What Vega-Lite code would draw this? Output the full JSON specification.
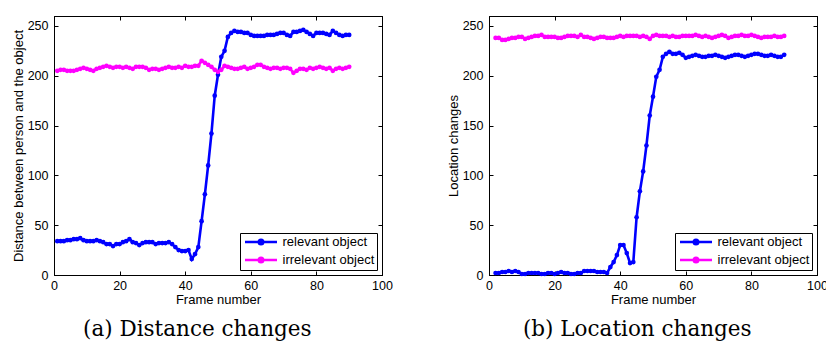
{
  "$schema": "https://vega.github.io/schema/vega-lite/v6.json",
  "padding": {"left": 11, "top": 15, "right": 0, "bottom": 0},
  "background": "white",
  "spacing": 53,
  "config": {
    "font": "Liberation Sans",
    "view": {"stroke": "black", "strokeWidth": 1},
    "axis": {
      "grid": false, "domainColor": "black", "tickColor": "black", "tickSize": -4, "labelFlush": false,
      "labelColor": "black", "labelFontSize": 12.5, "labelFont": "Liberation Sans",
      "titleColor": "black", "titleFontSize": 13, "titleFontWeight": "normal", "titleFont": "Liberation Sans"
    },
    "axisX": {"labelPadding": 8.5, "titlePadding": 1},
    "axisY": {"labelPadding": 10, "titlePadding": 2},
    "legend": {
      "orient": "bottom-right", "offset": 5, "strokeColor": "black", "fillColor": "white",
      "padding": 2.5, "rowPadding": 3, "labelFontSize": 13, "labelFont": "Liberation Sans", "labelColor": "black",
      "symbolSize": 64, "labelOffset": 27, "title": null
    },
    "title": {"orient": "bottom", "frame": "bounds", "anchor": "middle", "font": "DejaVu Serif", "fontSize": 21.5, "fontWeight": "normal", "color": "black", "offset": 13}
  },
  "resolve": {"scale": {"color": "independent", "y": "independent", "x": "independent"}, "legend": {"color": "independent"}},
  "datasets": {
    "a": [
      {"s":"relevant object","f":1,"v":34},{"s":"relevant object","f":2,"v":34},{"s":"relevant object","f":3,"v":34},{"s":"relevant object","f":4,"v":35},{"s":"relevant object","f":5,"v":35},{"s":"relevant object","f":6,"v":36},{"s":"relevant object","f":7,"v":36},{"s":"relevant object","f":8,"v":37},{"s":"relevant object","f":9,"v":35},{"s":"relevant object","f":10,"v":34},
      {"s":"relevant object","f":11,"v":34},{"s":"relevant object","f":12,"v":34},{"s":"relevant object","f":13,"v":35},{"s":"relevant object","f":14,"v":34},{"s":"relevant object","f":15,"v":33},{"s":"relevant object","f":16,"v":31},{"s":"relevant object","f":17,"v":31},{"s":"relevant object","f":18,"v":29},{"s":"relevant object","f":19,"v":31},{"s":"relevant object","f":20,"v":31},
      {"s":"relevant object","f":21,"v":33},{"s":"relevant object","f":22,"v":34},{"s":"relevant object","f":23,"v":36},{"s":"relevant object","f":24,"v":33},{"s":"relevant object","f":25,"v":32},{"s":"relevant object","f":26,"v":30},{"s":"relevant object","f":27,"v":32},{"s":"relevant object","f":28,"v":33},{"s":"relevant object","f":29,"v":33},{"s":"relevant object","f":30,"v":33},
      {"s":"relevant object","f":31,"v":31},{"s":"relevant object","f":32,"v":32},{"s":"relevant object","f":33,"v":32},{"s":"relevant object","f":34,"v":32},{"s":"relevant object","f":35,"v":33},{"s":"relevant object","f":36,"v":31},{"s":"relevant object","f":37,"v":28},{"s":"relevant object","f":38,"v":25},{"s":"relevant object","f":39,"v":24},{"s":"relevant object","f":40,"v":24},
      {"s":"relevant object","f":41,"v":25},{"s":"relevant object","f":42,"v":16},{"s":"relevant object","f":43,"v":21},{"s":"relevant object","f":44,"v":28},{"s":"relevant object","f":45,"v":54},{"s":"relevant object","f":46,"v":81},{"s":"relevant object","f":47,"v":110},{"s":"relevant object","f":48,"v":142},{"s":"relevant object","f":49,"v":180},{"s":"relevant object","f":50,"v":201},
      {"s":"relevant object","f":51,"v":219},{"s":"relevant object","f":52,"v":225},{"s":"relevant object","f":53,"v":239},{"s":"relevant object","f":54,"v":243},{"s":"relevant object","f":55,"v":245},{"s":"relevant object","f":56,"v":244},{"s":"relevant object","f":57,"v":244},{"s":"relevant object","f":58,"v":243},{"s":"relevant object","f":59,"v":243},{"s":"relevant object","f":60,"v":241},
      {"s":"relevant object","f":61,"v":240},{"s":"relevant object","f":62,"v":240},{"s":"relevant object","f":63,"v":240},{"s":"relevant object","f":64,"v":240},{"s":"relevant object","f":65,"v":241},{"s":"relevant object","f":66,"v":241},{"s":"relevant object","f":67,"v":241},{"s":"relevant object","f":68,"v":242},{"s":"relevant object","f":69,"v":243},{"s":"relevant object","f":70,"v":243},
      {"s":"relevant object","f":71,"v":241},{"s":"relevant object","f":72,"v":240},{"s":"relevant object","f":73,"v":244},{"s":"relevant object","f":74,"v":244},{"s":"relevant object","f":75,"v":245},{"s":"relevant object","f":76,"v":246},{"s":"relevant object","f":77,"v":244},{"s":"relevant object","f":78,"v":242},{"s":"relevant object","f":79,"v":240},{"s":"relevant object","f":80,"v":243},
      {"s":"relevant object","f":81,"v":243},{"s":"relevant object","f":82,"v":243},{"s":"relevant object","f":83,"v":242},{"s":"relevant object","f":84,"v":241},{"s":"relevant object","f":85,"v":245},{"s":"relevant object","f":86,"v":243},{"s":"relevant object","f":87,"v":241},{"s":"relevant object","f":88,"v":240},{"s":"relevant object","f":89,"v":241},{"s":"relevant object","f":90,"v":241},
      {"s":"irrelevant object","f":1,"v":205},{"s":"irrelevant object","f":2,"v":206},{"s":"irrelevant object","f":3,"v":206},{"s":"irrelevant object","f":4,"v":205},{"s":"irrelevant object","f":5,"v":205},{"s":"irrelevant object","f":6,"v":205},{"s":"irrelevant object","f":7,"v":206},{"s":"irrelevant object","f":8,"v":207},{"s":"irrelevant object","f":9,"v":208},{"s":"irrelevant object","f":10,"v":207},
      {"s":"irrelevant object","f":11,"v":206},{"s":"irrelevant object","f":12,"v":205},{"s":"irrelevant object","f":13,"v":207},{"s":"irrelevant object","f":14,"v":208},{"s":"irrelevant object","f":15,"v":209},{"s":"irrelevant object","f":16,"v":210},{"s":"irrelevant object","f":17,"v":209},{"s":"irrelevant object","f":18,"v":208},{"s":"irrelevant object","f":19,"v":209},{"s":"irrelevant object","f":20,"v":209},
      {"s":"irrelevant object","f":21,"v":208},{"s":"irrelevant object","f":22,"v":209},{"s":"irrelevant object","f":23,"v":208},{"s":"irrelevant object","f":24,"v":207},{"s":"irrelevant object","f":25,"v":209},{"s":"irrelevant object","f":26,"v":209},{"s":"irrelevant object","f":27,"v":209},{"s":"irrelevant object","f":28,"v":208},{"s":"irrelevant object","f":29,"v":206},{"s":"irrelevant object","f":30,"v":207},
      {"s":"irrelevant object","f":31,"v":207},{"s":"irrelevant object","f":32,"v":206},{"s":"irrelevant object","f":33,"v":207},{"s":"irrelevant object","f":34,"v":208},{"s":"irrelevant object","f":35,"v":209},{"s":"irrelevant object","f":36,"v":208},{"s":"irrelevant object","f":37,"v":208},{"s":"irrelevant object","f":38,"v":209},{"s":"irrelevant object","f":39,"v":208},{"s":"irrelevant object","f":40,"v":210},
      {"s":"irrelevant object","f":41,"v":209},{"s":"irrelevant object","f":42,"v":209},{"s":"irrelevant object","f":43,"v":210},{"s":"irrelevant object","f":44,"v":210},{"s":"irrelevant object","f":45,"v":215},{"s":"irrelevant object","f":46,"v":213},{"s":"irrelevant object","f":47,"v":211},{"s":"irrelevant object","f":48,"v":209},{"s":"irrelevant object","f":49,"v":206},{"s":"irrelevant object","f":50,"v":204},
      {"s":"irrelevant object","f":51,"v":206},{"s":"irrelevant object","f":52,"v":210},{"s":"irrelevant object","f":53,"v":209},{"s":"irrelevant object","f":54,"v":208},{"s":"irrelevant object","f":55,"v":207},{"s":"irrelevant object","f":56,"v":207},{"s":"irrelevant object","f":57,"v":208},{"s":"irrelevant object","f":58,"v":209},{"s":"irrelevant object","f":59,"v":207},{"s":"irrelevant object","f":60,"v":208},
      {"s":"irrelevant object","f":61,"v":209},{"s":"irrelevant object","f":62,"v":211},{"s":"irrelevant object","f":63,"v":211},{"s":"irrelevant object","f":64,"v":209},{"s":"irrelevant object","f":65,"v":208},{"s":"irrelevant object","f":66,"v":207},{"s":"irrelevant object","f":67,"v":208},{"s":"irrelevant object","f":68,"v":208},{"s":"irrelevant object","f":69,"v":207},{"s":"irrelevant object","f":70,"v":208},
      {"s":"irrelevant object","f":71,"v":208},{"s":"irrelevant object","f":72,"v":207},{"s":"irrelevant object","f":73,"v":203},{"s":"irrelevant object","f":74,"v":205},{"s":"irrelevant object","f":75,"v":207},{"s":"irrelevant object","f":76,"v":207},{"s":"irrelevant object","f":77,"v":206},{"s":"irrelevant object","f":78,"v":208},{"s":"irrelevant object","f":79,"v":207},{"s":"irrelevant object","f":80,"v":208},
      {"s":"irrelevant object","f":81,"v":209},{"s":"irrelevant object","f":82,"v":208},{"s":"irrelevant object","f":83,"v":207},{"s":"irrelevant object","f":84,"v":208},{"s":"irrelevant object","f":85,"v":205},{"s":"irrelevant object","f":86,"v":207},{"s":"irrelevant object","f":87,"v":208},{"s":"irrelevant object","f":88,"v":207},{"s":"irrelevant object","f":89,"v":208},{"s":"irrelevant object","f":90,"v":209}
    ],
    "b": [
      {"s":"relevant object","f":2,"v":2},{"s":"relevant object","f":3,"v":2},{"s":"relevant object","f":4,"v":3},{"s":"relevant object","f":5,"v":3},{"s":"relevant object","f":6,"v":4},{"s":"relevant object","f":7,"v":3},{"s":"relevant object","f":8,"v":4},{"s":"relevant object","f":9,"v":3},{"s":"relevant object","f":10,"v":1},
      {"s":"relevant object","f":11,"v":1},{"s":"relevant object","f":12,"v":2},{"s":"relevant object","f":13,"v":2},{"s":"relevant object","f":14,"v":2},{"s":"relevant object","f":15,"v":2},{"s":"relevant object","f":16,"v":1},{"s":"relevant object","f":17,"v":1},{"s":"relevant object","f":18,"v":2},{"s":"relevant object","f":19,"v":2},{"s":"relevant object","f":20,"v":1},
      {"s":"relevant object","f":21,"v":2},{"s":"relevant object","f":22,"v":3},{"s":"relevant object","f":23,"v":2},{"s":"relevant object","f":24,"v":2},{"s":"relevant object","f":25,"v":1},{"s":"relevant object","f":26,"v":1},{"s":"relevant object","f":27,"v":2},{"s":"relevant object","f":28,"v":2},{"s":"relevant object","f":29,"v":4},{"s":"relevant object","f":30,"v":4},
      {"s":"relevant object","f":31,"v":4},{"s":"relevant object","f":32,"v":4},{"s":"relevant object","f":33,"v":3},{"s":"relevant object","f":34,"v":3},{"s":"relevant object","f":35,"v":3},{"s":"relevant object","f":36,"v":2},{"s":"relevant object","f":37,"v":8},{"s":"relevant object","f":38,"v":13},{"s":"relevant object","f":39,"v":20},{"s":"relevant object","f":40,"v":30},
      {"s":"relevant object","f":41,"v":30},{"s":"relevant object","f":42,"v":22},{"s":"relevant object","f":43,"v":12},{"s":"relevant object","f":44,"v":13},{"s":"relevant object","f":45,"v":58},{"s":"relevant object","f":46,"v":84},{"s":"relevant object","f":47,"v":104},{"s":"relevant object","f":48,"v":130},{"s":"relevant object","f":49,"v":160},{"s":"relevant object","f":50,"v":179},
      {"s":"relevant object","f":51,"v":199},{"s":"relevant object","f":52,"v":206},{"s":"relevant object","f":53,"v":219},{"s":"relevant object","f":54,"v":222},{"s":"relevant object","f":55,"v":224},{"s":"relevant object","f":56,"v":222},{"s":"relevant object","f":57,"v":222},{"s":"relevant object","f":58,"v":223},{"s":"relevant object","f":59,"v":221},{"s":"relevant object","f":60,"v":218},
      {"s":"relevant object","f":61,"v":219},{"s":"relevant object","f":62,"v":220},{"s":"relevant object","f":63,"v":221},{"s":"relevant object","f":64,"v":220},{"s":"relevant object","f":65,"v":219},{"s":"relevant object","f":66,"v":219},{"s":"relevant object","f":67,"v":220},{"s":"relevant object","f":68,"v":220},{"s":"relevant object","f":69,"v":221},{"s":"relevant object","f":70,"v":220},
      {"s":"relevant object","f":71,"v":219},{"s":"relevant object","f":72,"v":218},{"s":"relevant object","f":73,"v":219},{"s":"relevant object","f":74,"v":220},{"s":"relevant object","f":75,"v":221},{"s":"relevant object","f":76,"v":221},{"s":"relevant object","f":77,"v":220},{"s":"relevant object","f":78,"v":219},{"s":"relevant object","f":79,"v":220},{"s":"relevant object","f":80,"v":221},
      {"s":"relevant object","f":81,"v":222},{"s":"relevant object","f":82,"v":222},{"s":"relevant object","f":83,"v":221},{"s":"relevant object","f":84,"v":220},{"s":"relevant object","f":85,"v":220},{"s":"relevant object","f":86,"v":221},{"s":"relevant object","f":87,"v":220},{"s":"relevant object","f":88,"v":219},{"s":"relevant object","f":89,"v":219},{"s":"relevant object","f":90,"v":221},
      {"s":"irrelevant object","f":2,"v":238},{"s":"irrelevant object","f":3,"v":238},{"s":"irrelevant object","f":4,"v":236},{"s":"irrelevant object","f":5,"v":236},{"s":"irrelevant object","f":6,"v":237},{"s":"irrelevant object","f":7,"v":238},{"s":"irrelevant object","f":8,"v":238},{"s":"irrelevant object","f":9,"v":239},{"s":"irrelevant object","f":10,"v":239},
      {"s":"irrelevant object","f":11,"v":237},{"s":"irrelevant object","f":12,"v":238},{"s":"irrelevant object","f":13,"v":239},{"s":"irrelevant object","f":14,"v":240},{"s":"irrelevant object","f":15,"v":240},{"s":"irrelevant object","f":16,"v":241},{"s":"irrelevant object","f":17,"v":239},{"s":"irrelevant object","f":18,"v":239},{"s":"irrelevant object","f":19,"v":239},{"s":"irrelevant object","f":20,"v":239},
      {"s":"irrelevant object","f":21,"v":238},{"s":"irrelevant object","f":22,"v":238},{"s":"irrelevant object","f":23,"v":239},{"s":"irrelevant object","f":24,"v":240},{"s":"irrelevant object","f":25,"v":240},{"s":"irrelevant object","f":26,"v":240},{"s":"irrelevant object","f":27,"v":239},{"s":"irrelevant object","f":28,"v":241},{"s":"irrelevant object","f":29,"v":239},{"s":"irrelevant object","f":30,"v":239},
      {"s":"irrelevant object","f":31,"v":238},{"s":"irrelevant object","f":32,"v":237},{"s":"irrelevant object","f":33,"v":238},{"s":"irrelevant object","f":34,"v":239},{"s":"irrelevant object","f":35,"v":239},{"s":"irrelevant object","f":36,"v":238},{"s":"irrelevant object","f":37,"v":238},{"s":"irrelevant object","f":38,"v":238},{"s":"irrelevant object","f":39,"v":239},{"s":"irrelevant object","f":40,"v":240},
      {"s":"irrelevant object","f":41,"v":239},{"s":"irrelevant object","f":42,"v":240},{"s":"irrelevant object","f":43,"v":240},{"s":"irrelevant object","f":44,"v":240},{"s":"irrelevant object","f":45,"v":240},{"s":"irrelevant object","f":46,"v":239},{"s":"irrelevant object","f":47,"v":240},{"s":"irrelevant object","f":48,"v":239},{"s":"irrelevant object","f":49,"v":237},{"s":"irrelevant object","f":50,"v":240},
      {"s":"irrelevant object","f":51,"v":241},{"s":"irrelevant object","f":52,"v":240},{"s":"irrelevant object","f":53,"v":240},{"s":"irrelevant object","f":54,"v":240},{"s":"irrelevant object","f":55,"v":239},{"s":"irrelevant object","f":56,"v":240},{"s":"irrelevant object","f":57,"v":239},{"s":"irrelevant object","f":58,"v":239},{"s":"irrelevant object","f":59,"v":240},{"s":"irrelevant object","f":60,"v":240},
      {"s":"irrelevant object","f":61,"v":240},{"s":"irrelevant object","f":62,"v":240},{"s":"irrelevant object","f":63,"v":241},{"s":"irrelevant object","f":64,"v":240},{"s":"irrelevant object","f":65,"v":239},{"s":"irrelevant object","f":66,"v":240},{"s":"irrelevant object","f":67,"v":239},{"s":"irrelevant object","f":68,"v":238},{"s":"irrelevant object","f":69,"v":239},{"s":"irrelevant object","f":70,"v":240},
      {"s":"irrelevant object","f":71,"v":241},{"s":"irrelevant object","f":72,"v":240},{"s":"irrelevant object","f":73,"v":238},{"s":"irrelevant object","f":74,"v":239},{"s":"irrelevant object","f":75,"v":240},{"s":"irrelevant object","f":76,"v":240},{"s":"irrelevant object","f":77,"v":241},{"s":"irrelevant object","f":78,"v":240},{"s":"irrelevant object","f":79,"v":240},{"s":"irrelevant object","f":80,"v":241},
      {"s":"irrelevant object","f":81,"v":240},{"s":"irrelevant object","f":82,"v":239},{"s":"irrelevant object","f":83,"v":238},{"s":"irrelevant object","f":84,"v":239},{"s":"irrelevant object","f":85,"v":239},{"s":"irrelevant object","f":86,"v":239},{"s":"irrelevant object","f":87,"v":240},{"s":"irrelevant object","f":88,"v":239},{"s":"irrelevant object","f":89,"v":239},{"s":"irrelevant object","f":90,"v":240}
    ]
  },
  "hconcat": [
    {
      "width": 328, "height": 259,
      "data": {"name": "a"},
      "title": {"text": "(a) Distance changes", "dx": -5},
      "resolve": {"axis": {"x": "independent", "y": "independent"}},
      "layer": [
        {
          "mark": {"type": "line", "strokeWidth": 2.6},
          "encoding": {
            "x": {"field": "f", "type": "quantitative", "scale": {"domain": [0, 100]}, "axis": {"title": "Frame number", "orient": "bottom", "values": [0, 20, 40, 60, 80, 100]}},
            "y": {"field": "v", "type": "quantitative", "scale": {"domain": [0, 250]}, "axis": {"title": "Distance between person and the object", "orient": "left", "values": [0, 50, 100, 150, 200, 250]}},
            "color": {"field": "s", "type": "nominal", "scale": {"domain": ["relevant object", "irrelevant object"], "range": ["#0000ff", "#ff00ff"]},
              "legend": {"symbolType": "M-1,0H7M3.55,0A0.55,0.55,0,1,1,2.45,0A0.55,0.55,0,1,1,3.55,0Z",
                "encode": {"symbols": {"update": {"fill": {"signal": "datum.value == 'relevant object' ? '#0000ff' : '#ff00ff'"}, "stroke": {"signal": "datum.value == 'relevant object' ? '#0000ff' : '#ff00ff'"}, "strokeWidth": {"value": 2.6}, "opacity": {"value": 1}, "fillOpacity": {"value": 1}, "strokeOpacity": {"value": 1}}}}}}
          }
        },
        {
          "mark": {"type": "point", "filled": true, "size": 22, "opacity": 1},
          "encoding": {
            "x": {"field": "f", "type": "quantitative", "axis": {"orient": "top", "labels": false, "title": null, "values": [0, 20, 40, 60, 80, 100]}},
            "y": {"field": "v", "type": "quantitative", "axis": {"orient": "right", "labels": false, "title": null, "values": [0, 50, 100, 150, 200, 250]}},
            "color": {"field": "s", "type": "nominal"}
          }
        }
      ]
    },
    {
      "width": 328, "height": 259,
      "data": {"name": "b"},
      "title": {"text": "(b) Location changes"},
      "resolve": {"axis": {"x": "independent", "y": "independent"}},
      "layer": [
        {
          "mark": {"type": "line", "strokeWidth": 2.6},
          "encoding": {
            "x": {"field": "f", "type": "quantitative", "scale": {"domain": [0, 100]}, "axis": {"title": "Frame number", "orient": "bottom", "values": [0, 20, 40, 60, 80, 100]}},
            "y": {"field": "v", "type": "quantitative", "scale": {"domain": [0, 250]}, "axis": {"title": "Location changes", "orient": "left", "values": [0, 50, 100, 150, 200, 250]}},
            "color": {"field": "s", "type": "nominal", "scale": {"domain": ["relevant object", "irrelevant object"], "range": ["#0000ff", "#ff00ff"]},
              "legend": {"symbolType": "M-1,0H7M3.55,0A0.55,0.55,0,1,1,2.45,0A0.55,0.55,0,1,1,3.55,0Z",
                "encode": {"symbols": {"update": {"fill": {"signal": "datum.value == 'relevant object' ? '#0000ff' : '#ff00ff'"}, "stroke": {"signal": "datum.value == 'relevant object' ? '#0000ff' : '#ff00ff'"}, "strokeWidth": {"value": 2.6}, "opacity": {"value": 1}, "fillOpacity": {"value": 1}, "strokeOpacity": {"value": 1}}}}}}
          }
        },
        {
          "mark": {"type": "point", "filled": true, "size": 22, "opacity": 1},
          "encoding": {
            "x": {"field": "f", "type": "quantitative", "axis": {"orient": "top", "labels": false, "title": null, "values": [0, 20, 40, 60, 80, 100]}},
            "y": {"field": "v", "type": "quantitative", "axis": {"orient": "right", "labels": false, "title": null, "values": [0, 50, 100, 150, 200, 250]}},
            "color": {"field": "s", "type": "nominal"}
          }
        }
      ]
    }
  ]
}
